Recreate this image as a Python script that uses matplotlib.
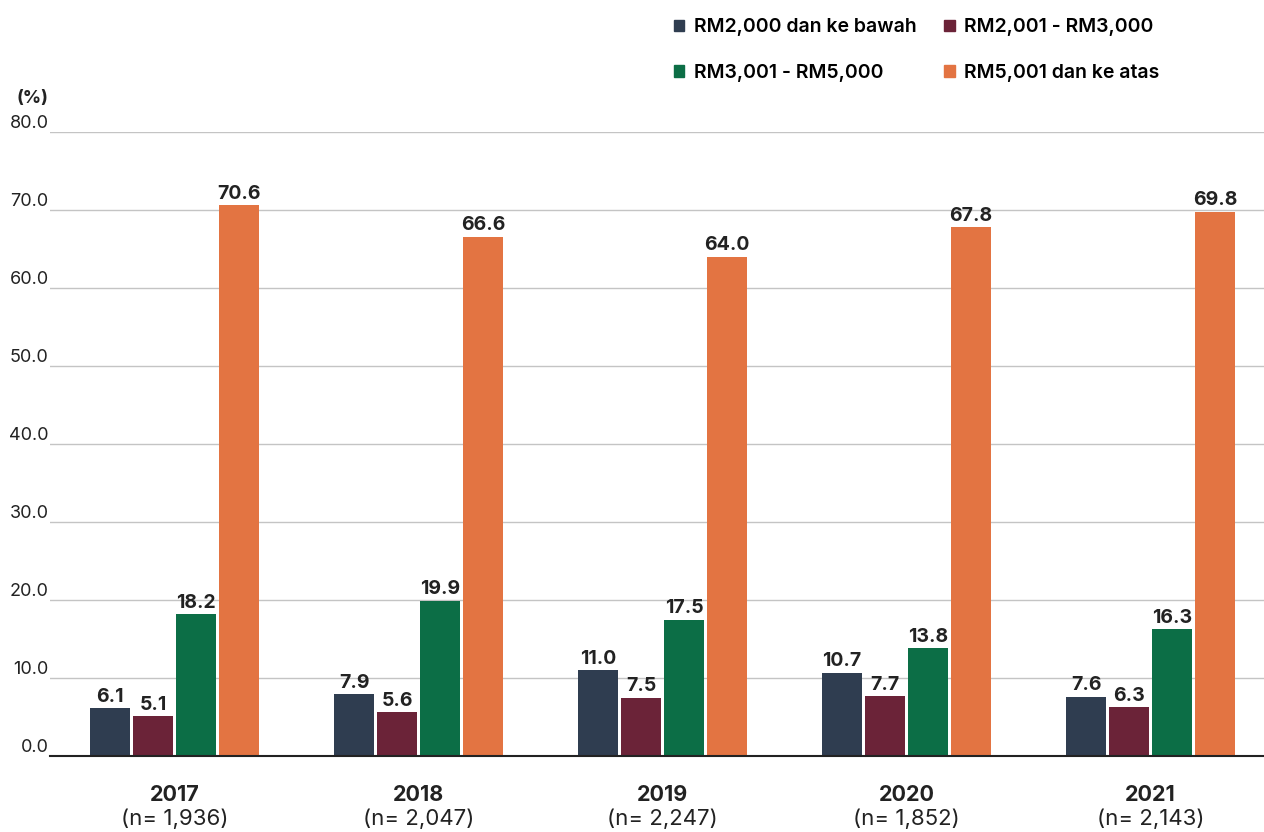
import matplotlib.pyplot as plt
import numpy as np
from matplotlib.patches import Patch

plt.rcParams['font.family'] = ['Inter', 'DejaVu Sans']

years = ['2017', '2018', '2019', '2020', '2021']
sample_sizes = ['(n= 1,936)', '(n= 2,047)', '(n= 2,247)', '(n= 1,852)', '(n= 2,143)']
series_names = ['RM2,000 dan ke bawah', 'RM2,001 - RM3,000',
                'RM3,001 - RM5,000', 'RM5,001 dan ke atas']
below_2000 = [6.1, 7.9, 11.0, 10.7, 7.6]
rm2001_3000 = [5.1, 5.6, 7.5, 7.7, 6.3]
rm3001_5000 = [18.2, 19.9, 17.5, 13.8, 16.3]
above_5001 = [70.6, 66.6, 64.0, 67.8, 69.8]
colors = ['#2f3d50', '#6b2338', '#0c6e46', '#e37442']

text_color = '#222222'

fig = plt.figure(figsize=(12.64, 8.32), dpi=100)
ax = fig.add_axes([0.0396, 0.0913, 0.9604, 0.75])

x = np.arange(len(years))
width = 0.164
step = 0.176
all_series = [below_2000, rm2001_3000, rm3001_5000, above_5001]
for i, vals in enumerate(all_series):
    pos = x + (i - 1.5) * step
    bars = ax.bar(pos, vals, width, color=colors[i], zorder=3)
    for b, v in zip(bars, vals):
        ax.text(b.get_x() + b.get_width() / 2, v + 0.3, f'{v:.1f}',
                ha='center', va='bottom', fontsize=14, fontweight='bold',
                color=text_color)

ax.set_xlim(-0.51, 4.465)
ax.set_ylim(0, 80)
ax.set_yticks(np.arange(0, 81, 10))
ax.set_yticklabels([f'{t:.1f}' for t in np.arange(0, 81, 10)])
ax.tick_params(axis='y', length=0, pad=1, labelsize=13, labelcolor=text_color)
ax.tick_params(axis='x', length=0)
ax.set_xticks([])
ax.grid(axis='y', color='#c4c4c4', linewidth=1, zorder=0)
for s in ['top', 'right', 'left']:
    ax.spines[s].set_visible(False)
ax.spines['bottom'].set_color('#222222')
ax.spines['bottom'].set_linewidth(1.5)
ax.spines['bottom'].set_zorder(4)
for lbl in ax.get_yticklabels():
    lbl.set_verticalalignment('bottom')

for xi, yr, n in zip(x, years, sample_sizes):
    ax.text(xi, -5.0, yr, ha='center', va='center', fontsize=15.5,
            fontweight='bold', color=text_color)
    ax.text(xi, -8.1, n, ha='center', va='center', fontsize=16,
            color=text_color)

fig.text(0.013, 0.882, '(%)', fontsize=13, fontweight='bold', color=text_color,
         va='center')

# legend fills column-wise, so reorder to get the row layout of the original
order = [0, 2, 1, 3]
handles = [Patch(color=colors[k]) for k in order]
labels = [series_names[k] for k in order]
fig.legend(handles, labels, ncol=2, loc='upper left',
           bbox_to_anchor=(0.519, 0.999), frameon=False,
           handlelength=0.55, handleheight=0.55, handletextpad=0.5,
           columnspacing=1.4, labelspacing=1.4,
           prop={'weight': 'semibold', 'size': 14})

fig.savefig('out.png', dpi=100, facecolor='white')
